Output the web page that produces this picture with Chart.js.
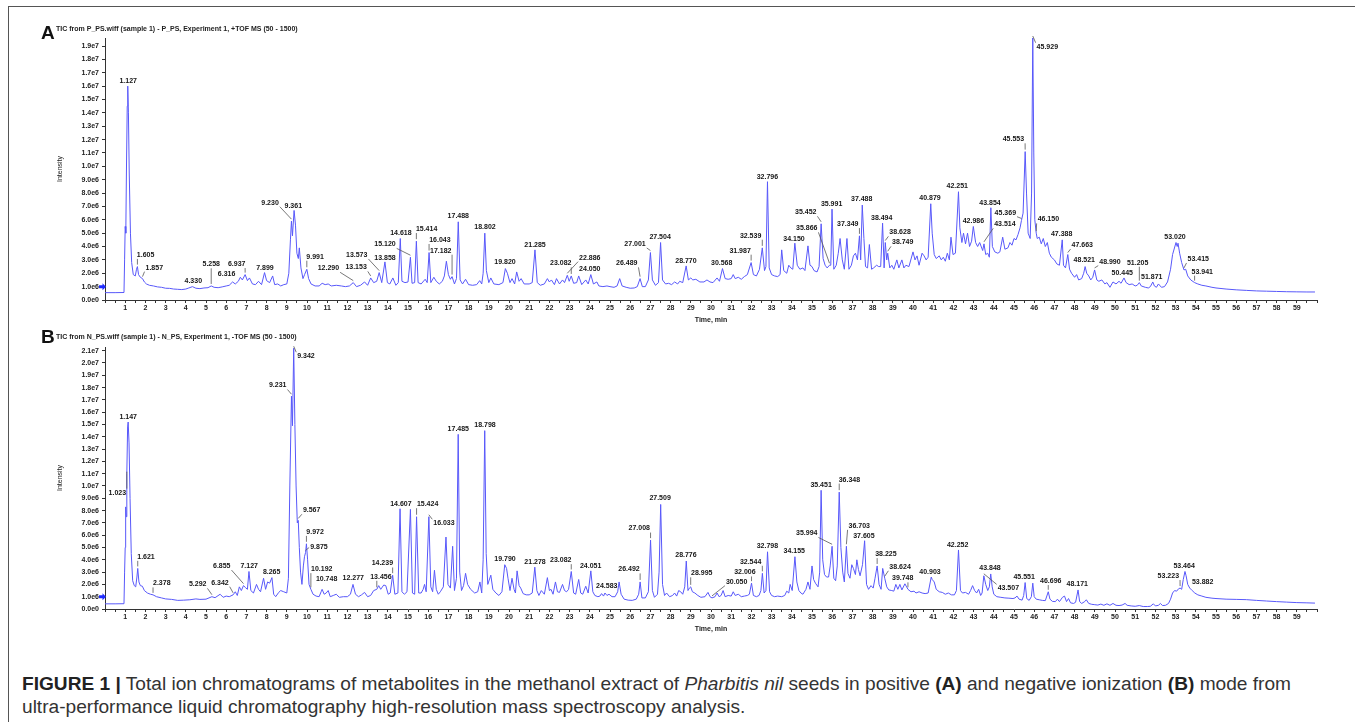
<!DOCTYPE html>
<html><head><meta charset="utf-8">
<script src="https://cdn.jsdelivr.net/npm/chart.js@4.4.1/dist/chart.umd.min.js"></script>
<style>
html,body{margin:0;padding:0;background:#fff;width:1355px;height:722px;overflow:hidden;}
#frame{position:absolute;left:8px;top:6px;width:1400px;height:800px;border-left:1px solid #555;border-top:1px solid #555;}
canvas{position:absolute;left:0;}
.panel{position:absolute;font-family:"Liberation Sans",Arial,sans-serif;font-weight:bold;font-size:19px;line-height:1;color:#111;}
.tic{position:absolute;font-family:"Liberation Sans",Arial,sans-serif;font-size:7px;font-weight:bold;line-height:1;color:#222;white-space:nowrap;}
#caption{position:absolute;left:22px;top:672px;font-family:"Liberation Sans Narrow","Liberation Sans",Arial,sans-serif;font-size:17px;line-height:23px;color:#333;white-space:nowrap;}
#caption b{color:#222;}
</style></head>
<body>
<div id="frame"></div>
<canvas id="chartA" width="1355" height="340" style="top:0px"></canvas>
<canvas id="chartB" width="1355" height="330" style="top:320px"></canvas>
<div class="panel" style="left:41px;top:23px">A</div>
<div class="tic" style="left:56px;top:24.5px">TIC from P_PS.wiff (sample 1) - P_PS, Experiment 1, +TOF MS (50 - 1500)</div>
<div class="panel" style="left:41px;top:327px">B</div>
<div class="tic" style="left:56px;top:332.5px">TIC from N_PS.wiff (sample 1) - N_PS, Experiment 1, -TOF MS (50 - 1500)</div>
<div id="caption"><span id="cap1"><b>FIGURE 1 |</b> Total ion chromatograms of metabolites in the methanol extract of <i>Pharbitis nil</i> seeds in positive <b>(A)</b> and negative ionization <b>(B)</b> mode from</span><br><span id="cap2">ultra-performance liquid chromatography high-resolution mass spectroscopy analysis.</span></div>
<script>
// ---------- DATA (time in min, intensity in units of 1e6 counts) ----------
const timeA = [0,0.5,0.94,0.97,1.0,1.03,1.06,1.1,1.127,1.16,1.2,1.26,1.32,1.4,1.5,1.56,1.605,1.66,1.75,1.857,1.95,2.05,2.2,2.4,2.6,2.8,3.0,3.2,3.4,3.6,3.8,4.0,4.15,4.33,4.5,4.7,4.9,5.1,5.258,5.4,5.6,5.8,6.0,6.15,6.316,6.45,6.6,6.7,6.8,6.937,7.05,7.15,7.3,7.45,7.6,7.75,7.899,8.0,8.15,8.3,8.4,8.55,8.7,8.85,9.0,9.1,9.18,9.23,9.28,9.361,9.43,9.5,9.57,9.62,9.7,9.8,9.88,9.991,10.08,10.2,10.4,10.6,10.75,10.9,11.05,11.2,11.45,11.7,11.9,12.1,12.29,12.45,12.65,12.85,13.0,13.153,13.3,13.45,13.573,13.7,13.858,13.98,14.1,14.25,14.4,14.52,14.618,14.7,14.85,15.0,15.12,15.2,15.33,15.414,15.5,15.65,15.85,15.95,16.043,16.13,16.28,16.4,16.55,16.7,16.8,16.9,17.0,17.1,17.182,17.3,17.4,17.488,17.58,17.7,17.85,18.0,18.2,18.4,18.55,18.65,18.72,18.802,18.88,19.0,19.1,19.25,19.5,19.7,19.82,19.92,20.05,20.15,20.28,20.38,20.5,20.6,20.75,21.0,21.15,21.285,21.4,21.55,21.75,21.9,22.0,22.1,22.25,22.35,22.5,22.65,22.75,22.886,22.98,23.082,23.2,23.35,23.45,23.6,23.8,23.92,24.05,24.18,24.35,24.45,24.65,24.85,25.0,25.2,25.35,25.48,25.6,25.8,26.0,26.2,26.35,26.489,26.6,26.75,26.9,27.001,27.1,27.25,27.4,27.504,27.6,27.75,27.9,28.05,28.2,28.35,28.45,28.6,28.77,28.88,29.0,29.1,29.25,29.45,29.65,29.8,29.95,30.1,30.3,30.42,30.568,30.7,30.85,31.0,31.1,31.2,31.35,31.5,31.65,31.8,31.987,32.1,32.25,32.4,32.539,32.65,32.72,32.796,32.88,33.0,33.15,33.3,33.42,33.5,33.6,33.75,33.85,33.95,34.05,34.15,34.27,34.4,34.55,34.65,34.8,34.9,35.0,35.1,35.25,35.35,35.452,35.55,35.65,35.75,35.866,35.93,35.991,36.08,36.2,36.3,36.39,36.5,36.6,36.73,36.83,36.95,37.05,37.15,37.25,37.349,37.41,37.488,37.57,37.65,37.75,37.84,37.95,38.05,38.2,38.3,38.4,38.494,38.57,38.628,38.7,38.749,38.85,38.95,39.05,39.2,39.3,39.45,39.55,39.65,39.8,40.0,40.1,40.2,40.3,40.45,40.55,40.65,40.75,40.879,40.95,41.05,41.15,41.3,41.4,41.5,41.6,41.7,41.8,41.88,41.98,42.1,42.251,42.32,42.42,42.5,42.6,42.7,42.8,42.9,42.986,43.1,43.2,43.3,43.45,43.514,43.6,43.7,43.78,43.854,43.93,44.05,44.2,44.3,44.44,44.55,44.7,44.8,44.9,45.0,45.1,45.2,45.3,45.369,45.45,45.553,45.62,45.7,45.8,45.87,45.929,45.98,46.03,46.1,46.15,46.25,46.35,46.45,46.55,46.65,46.75,46.85,47.0,47.12,47.25,47.388,47.45,47.55,47.663,47.75,47.85,48.0,48.1,48.2,48.35,48.45,48.521,48.6,48.7,48.8,48.9,48.99,49.1,49.2,49.35,49.5,49.6,49.75,49.9,50.05,50.2,50.3,50.445,50.55,50.7,50.85,51.0,51.1,51.205,51.3,51.5,51.65,51.75,51.871,51.95,52.05,52.15,52.3,52.45,52.6,52.75,52.85,53.02,53.08,53.12,53.2,53.3,53.415,53.5,53.6,53.75,53.941,54.1,54.3,54.5,54.8,55.0,55.5,56.0,56.5,57.0,57.5,58.0,58.5,59.0,59.5,59.9];
const intensityA = [0.55,0.55,0.56,3.0,5.5,5.0,9.5,14.5,16.0,14.0,9.5,5.0,2.8,1.9,1.8,2.3,2.5,1.9,1.7,1.6,1.35,1.2,1.1,1.05,0.98,0.95,0.88,0.87,0.82,0.8,0.78,0.82,0.9,1.0,0.88,0.85,0.9,0.92,1.05,0.95,0.92,0.98,1.05,1.1,1.35,1.2,1.4,1.7,1.5,1.9,1.45,1.65,1.2,1.15,1.4,1.15,2.05,1.45,1.3,1.8,1.15,1.2,1.05,1.15,1.2,2.0,4.5,5.9,4.8,6.7,5.6,3.5,3.1,3.9,2.4,1.6,1.9,2.3,1.6,1.2,1.05,1.05,1.25,1.15,1.2,1.05,1.1,1.05,1.0,1.05,1.3,1.0,1.1,1.35,1.1,1.65,1.3,1.4,2.05,1.3,2.85,1.3,1.2,1.65,1.1,1.3,4.6,1.4,1.3,1.35,3.2,1.25,1.3,4.4,1.3,1.2,1.55,1.3,3.55,1.3,1.7,1.4,1.2,1.4,1.8,2.9,1.9,1.55,1.75,1.2,1.6,5.85,1.5,1.2,1.55,1.15,1.1,1.15,1.45,1.2,2.0,5.0,2.2,1.3,1.65,1.2,1.15,1.3,2.35,2.0,1.3,1.6,1.2,2.1,1.4,1.6,1.2,1.2,1.3,3.75,1.3,1.1,1.2,1.6,1.35,1.5,1.15,1.6,1.2,1.5,1.3,1.85,1.4,1.8,1.25,1.3,1.8,1.15,1.5,1.2,1.9,1.2,1.35,1.05,1.0,1.05,1.0,0.95,1.05,1.6,1.05,0.95,0.88,0.9,1.0,1.6,1.0,1.0,1.5,3.55,1.5,1.1,1.3,4.3,1.5,1.2,1.25,1.15,1.35,1.2,1.4,1.3,2.55,1.5,1.65,1.5,1.55,1.35,1.35,1.5,1.35,1.3,1.65,1.4,2.35,1.6,1.55,1.6,1.9,1.6,1.7,1.55,1.75,1.9,2.8,1.9,1.8,2.3,3.9,2.2,2.5,8.85,2.4,1.9,1.8,1.75,1.9,3.75,2.2,2.0,2.6,2.4,2.3,4.25,2.6,2.3,2.4,2.2,4.05,2.6,2.5,2.2,2.1,2.5,5.7,3.1,2.6,2.4,2.6,2.6,6.8,2.3,2.6,3.5,4.6,3.0,2.3,4.6,2.3,2.6,3.3,3.5,3.0,4.8,3.0,7.1,4.6,2.5,2.4,4.15,2.3,2.4,2.6,2.5,2.5,5.75,2.4,4.3,3.0,3.5,2.4,2.6,2.3,3.0,2.4,3.0,2.4,2.6,2.5,3.6,3.0,3.3,2.6,3.5,3.3,3.0,3.2,7.2,5.0,3.4,3.1,3.3,3.0,3.2,2.9,3.5,3.0,4.7,3.4,3.5,8.1,5.4,4.3,5.0,4.2,5.0,4.0,4.4,5.5,4.3,4.0,4.3,3.7,4.2,3.4,3.5,3.2,6.9,4.0,3.6,3.5,3.6,4.7,3.8,3.9,4.3,4.1,4.6,4.5,4.9,5.4,5.95,6.5,11.1,8.0,5.0,4.6,8.0,19.6,11.0,6.0,5.0,4.6,4.7,4.2,4.6,4.0,4.3,3.5,3.2,3.0,2.7,2.6,4.5,2.6,2.4,3.4,2.3,2.0,1.7,1.9,1.5,1.6,2.0,2.5,2.0,1.8,1.5,1.7,2.25,1.5,1.4,1.5,1.2,1.3,0.95,1.35,1.2,1.4,1.25,1.65,1.3,1.15,1.2,1.05,1.1,1.3,1.05,0.95,0.9,1.0,1.35,1.05,0.95,1.2,0.95,1.0,1.35,2.3,3.4,4.3,4.0,4.25,3.5,2.8,2.25,2.3,1.8,1.5,1.3,1.2,1.1,1.05,0.95,0.9,0.82,0.76,0.72,0.68,0.66,0.64,0.62,0.61,0.6,0.6];

const timeB = [0,0.5,0.94,0.97,1.0,1.023,1.05,1.08,1.12,1.147,1.19,1.24,1.3,1.37,1.45,1.52,1.58,1.621,1.68,1.75,1.85,1.95,2.1,2.25,2.378,2.55,2.8,3.0,3.3,3.6,3.9,4.2,4.5,4.7,5.0,5.292,5.45,5.7,5.85,6.0,6.15,6.342,6.45,6.55,6.65,6.75,6.855,6.95,7.05,7.127,7.22,7.35,7.5,7.6,7.7,7.85,7.95,8.05,8.15,8.265,8.35,8.45,8.6,8.7,8.85,9.0,9.08,9.15,9.231,9.28,9.342,9.4,9.46,9.52,9.567,9.62,9.68,9.75,9.82,9.875,9.93,9.972,10.03,10.1,10.192,10.3,10.45,10.6,10.7,10.748,10.85,10.95,11.05,11.15,11.3,11.45,11.6,11.8,12.0,12.15,12.277,12.4,12.55,12.7,12.85,13.0,13.15,13.3,13.456,13.55,13.65,13.8,13.9,14.02,14.12,14.239,14.35,14.5,14.607,14.7,14.82,14.95,15.12,15.22,15.33,15.424,15.53,15.65,15.75,15.82,15.9,16.033,16.13,16.22,16.31,16.4,16.5,16.6,16.75,16.88,16.98,17.1,17.21,17.3,17.4,17.485,17.56,17.65,17.75,17.85,17.95,18.1,18.3,18.45,18.56,18.65,18.72,18.798,18.87,18.95,19.1,19.2,19.35,19.5,19.65,19.79,19.88,19.95,20.05,20.15,20.25,20.32,20.4,20.5,20.58,20.7,20.85,21.0,21.15,21.278,21.38,21.48,21.6,21.75,21.9,22.0,22.08,22.18,22.3,22.4,22.5,22.65,22.75,22.85,22.95,23.082,23.2,23.3,23.45,23.55,23.65,23.8,23.92,24.051,24.15,24.25,24.4,24.5,24.583,24.68,24.75,24.85,24.95,25.1,25.25,25.38,25.45,25.55,25.7,25.9,26.1,26.3,26.42,26.492,26.58,26.75,26.9,27.008,27.1,27.2,27.35,27.43,27.509,27.6,27.7,27.8,27.95,28.1,28.2,28.3,28.4,28.5,28.6,28.7,28.776,28.86,28.93,28.995,29.08,29.2,29.35,29.5,29.7,29.85,29.95,30.05,30.2,30.3,30.4,30.5,30.6,30.7,30.85,31.0,31.1,31.2,31.35,31.5,31.65,31.8,31.9,32.006,32.1,32.25,32.38,32.47,32.544,32.63,32.72,32.798,32.9,33.0,33.15,33.3,33.5,33.65,33.75,33.85,33.92,34.02,34.155,34.25,34.35,34.45,34.55,34.7,34.8,34.9,35.0,35.08,35.17,35.3,35.38,35.451,35.53,35.62,35.72,35.82,35.9,35.994,36.08,36.17,36.25,36.348,36.43,36.52,36.6,36.703,36.78,36.88,36.97,37.05,37.15,37.22,37.3,37.38,37.5,37.605,37.7,37.8,37.92,38.03,38.12,38.225,38.32,38.42,38.5,38.6,38.7,38.8,38.95,39.05,39.15,39.25,39.35,39.45,39.6,39.75,39.9,40.05,40.15,40.3,40.45,40.6,40.75,40.903,40.95,41.05,41.15,41.3,41.45,41.6,41.75,41.9,42.05,42.15,42.252,42.35,42.45,42.6,42.75,42.85,42.95,43.05,43.15,43.25,43.35,43.42,43.507,43.6,43.7,43.78,43.848,43.92,44.0,44.15,44.35,44.55,44.75,44.95,45.05,45.15,45.25,45.4,45.48,45.551,45.63,45.75,45.86,45.93,46.0,46.1,46.25,46.4,46.55,46.696,46.78,46.9,47.05,47.15,47.25,47.4,47.5,47.6,47.7,47.8,47.95,48.05,48.171,48.25,48.35,48.5,48.58,48.7,48.85,49.0,49.15,49.3,49.45,49.6,49.75,49.9,50.05,50.2,50.35,50.5,50.6,50.8,51.0,51.2,51.4,51.6,51.75,51.9,52.0,52.15,52.25,52.35,52.5,52.65,52.75,52.85,52.95,53.05,53.15,53.223,53.3,53.38,53.464,53.52,53.6,53.7,53.82,53.95,54.1,54.3,54.5,54.8,55.0,55.5,56.0,56.5,57.0,57.5,58.0,58.5,59.0,59.5,59.9];
const intensityB = [0.42,0.42,0.43,3.0,5.0,8.3,7.5,11.0,14.8,15.2,13.5,9.0,4.5,2.3,1.9,1.8,2.6,3.3,2.2,1.9,1.85,1.5,1.3,1.2,1.15,1.0,0.9,0.82,0.78,0.7,0.72,0.75,0.82,0.78,0.8,1.0,0.92,1.2,0.95,1.05,1.0,1.15,1.4,1.1,1.8,1.5,1.9,1.75,1.6,3.05,1.5,1.3,2.0,1.6,1.4,2.5,1.6,2.2,2.1,2.55,1.2,1.0,1.35,1.5,1.4,1.3,2.5,10.0,17.3,14.9,21.2,15.0,10.0,7.0,7.2,5.0,3.0,2.0,3.5,4.25,4.6,5.3,4.0,2.0,1.6,1.2,1.05,1.0,1.4,1.6,1.2,1.3,1.5,1.0,1.1,1.2,0.95,1.0,1.0,1.2,2.0,1.2,1.0,1.15,1.35,1.0,1.1,1.5,1.6,1.9,1.6,1.95,1.9,1.2,1.3,2.75,1.2,1.3,8.15,1.4,1.2,1.4,8.1,1.3,1.2,7.5,1.3,1.3,1.6,2.0,1.4,7.5,1.8,1.4,3.15,1.6,1.2,1.4,1.8,5.85,2.0,1.7,5.1,1.5,2.5,14.2,3.0,1.5,1.9,2.9,2.0,1.6,1.3,1.4,2.2,1.3,4.0,14.5,4.5,2.0,2.75,1.6,1.3,1.1,1.4,3.6,3.3,2.5,1.5,2.5,1.6,1.3,3.1,1.9,1.7,1.25,1.15,1.15,1.3,3.4,1.5,1.1,1.5,1.2,2.55,1.5,1.6,1.2,2.2,1.4,1.35,2.0,1.5,1.4,1.6,3.05,1.3,1.2,2.4,1.3,1.2,1.85,1.3,3.1,1.4,1.1,1.0,1.05,1.25,1.05,1.3,1.1,1.2,1.0,1.0,1.4,2.2,1.2,0.8,0.72,0.7,0.8,1.2,2.2,0.9,0.9,1.4,5.6,1.5,0.95,1.2,3.0,8.5,2.0,1.1,1.3,1.0,1.1,1.3,1.05,1.5,1.4,1.2,1.8,3.9,1.5,1.7,1.8,1.4,1.3,1.1,0.95,1.0,1.35,1.0,0.9,1.0,1.3,1.0,1.1,1.5,1.0,1.1,1.05,1.4,1.1,1.2,1.0,1.05,1.1,1.2,2.1,1.1,1.0,1.1,1.5,2.9,1.3,1.5,4.65,1.4,1.1,1.0,1.05,1.0,1.1,1.45,1.3,2.0,1.5,4.25,2.2,1.5,1.3,1.2,1.6,2.2,1.6,3.5,2.4,2.1,1.8,3.0,9.65,4.0,2.8,2.6,2.6,3.5,5.1,2.5,2.3,3.5,9.5,5.0,3.0,2.2,5.1,2.9,2.5,3.6,3.3,2.8,4.0,3.2,2.7,3.6,5.55,2.0,1.6,1.9,1.7,2.5,3.5,2.0,1.6,3.3,2.5,1.8,1.55,1.5,1.45,2.0,1.6,2.0,1.55,2.05,1.6,1.4,1.45,1.3,1.4,1.3,1.25,1.3,2.6,2.4,2.2,1.6,1.4,1.35,1.2,1.3,1.15,1.15,1.5,4.8,1.5,1.3,1.35,1.2,1.5,1.9,1.5,1.3,1.6,1.1,1.3,2.7,2.0,1.5,1.8,2.85,1.8,1.2,1.0,0.95,0.9,0.88,0.85,0.9,1.05,0.8,0.72,1.1,2.15,0.85,0.7,1.0,2.1,1.0,0.8,0.75,0.7,0.68,1.4,0.8,0.62,0.6,0.8,0.6,0.95,1.05,0.6,0.85,0.5,0.45,0.55,1.55,0.6,0.45,0.6,0.75,0.45,0.38,0.35,0.32,0.4,0.3,0.42,0.3,0.45,0.3,0.28,0.32,0.45,0.3,0.25,0.22,0.28,0.2,0.2,0.22,0.42,0.25,0.3,0.45,0.28,0.3,0.45,0.8,1.3,1.5,1.45,1.65,1.7,1.6,2.4,3.05,2.7,2.0,1.7,1.5,1.3,1.15,1.05,0.95,0.88,0.85,0.8,0.78,0.76,0.7,0.65,0.6,0.56,0.52,0.5,0.48];

// Peak annotations: label text (retention time), label centre time, label centre intensity (1e6)
const peakTextA = ["1.127","1.605","1.857","4.330","5.258","6.316","6.937","7.899","9.230","9.361","9.991","12.290","13.153","13.573","13.858","14.618","15.120","15.414","16.043","17.182","17.488","18.802","19.820","21.285","23.082","22.886","24.050","26.489","27.001","27.504","28.770","30.568","31.987","32.539","32.796","34.150","35.452","35.866","35.991","37.349","37.488","38.494","38.628","38.749","40.879","42.251","42.986","43.854","43.514","45.369","45.553","45.929","46.150","47.388","47.663","48.521","48.990","50.445","51.205","51.871","53.020","53.415","53.941"];
const peakLabelTimeA = [1.15,2.01,2.44,4.37,5.26,6.02,6.52,7.92,8.17,9.32,10.4,11.06,12.43,12.46,13.86,14.65,13.86,15.92,16.58,16.62,17.49,18.81,19.8,21.29,22.56,24.0,24.0,25.83,26.24,27.48,28.76,30.53,31.44,31.96,32.79,34.11,34.69,34.74,35.97,36.77,37.46,38.45,39.36,39.49,40.84,42.19,42.99,43.81,44.55,44.57,44.97,46.65,46.7,47.36,48.38,48.48,49.75,50.36,51.12,51.82,52.97,54.12,54.32];
const peakLabelIntA = [16.4,3.37,2.42,1.42,2.67,1.94,2.69,2.37,7.28,7.05,3.24,2.37,2.44,3.37,3.17,4.99,4.16,5.31,4.49,3.69,6.28,5.48,2.82,4.11,2.74,3.17,2.29,2.74,4.19,4.69,2.92,2.74,3.69,4.81,9.22,4.56,6.56,5.36,7.18,5.68,7.55,6.11,5.06,4.31,7.65,8.55,5.91,7.28,5.66,6.53,12.02,18.95,6.03,4.91,4.11,2.99,2.87,2.0,2.79,1.74,4.73,3.07,2.12];

const peakTextB = ["1.023","1.147","1.621","2.378","5.292","6.342","6.855","7.127","8.265","9.231","9.342","9.567","9.972","9.875","10.192","10.748","12.277","13.456","14.239","14.607","15.424","16.033","17.485","18.798","19.790","21.278","23.082","24.051","24.583","26.492","27.008","27.509","28.776","28.995","30.050","32.006","32.544","32.798","34.155","35.451","35.994","36.348","36.703","37.605","38.225","38.624","39.748","40.903","42.252","43.848","43.507","45.551","46.696","48.171","53.223","53.464","53.882"];
const peakLabelTimeB = [0.61,1.15,2.03,2.81,4.59,5.69,5.78,7.14,8.25,8.55,9.95,10.23,10.4,10.59,10.73,10.97,12.29,13.66,13.73,14.65,15.97,16.78,17.49,18.81,19.8,21.29,22.56,24.04,24.84,25.94,26.45,27.48,28.76,29.54,31.27,31.68,31.96,32.79,34.12,35.45,34.74,36.85,37.34,37.57,38.66,39.36,39.49,40.84,42.21,43.81,44.72,45.5,46.82,48.13,52.64,53.42,54.34];
const peakLabelIntB = [9.46,15.6,4.24,2.08,2.0,2.14,3.49,3.51,2.97,18.17,20.55,8.03,6.27,5.0,3.24,2.41,2.49,2.62,3.7,8.57,8.52,6.97,14.6,14.98,4.03,3.79,3.97,3.49,1.87,3.22,6.54,8.98,4.38,2.9,2.22,2.97,3.84,5.11,4.7,10.06,6.14,10.52,6.76,5.92,4.46,3.43,2.49,3.03,5.19,3.3,1.68,2.57,2.27,2.0,2.68,3.51,2.17];

const yMaxA = 19.6, yMaxB = 21.3;   // top of each intensity axis (1e6)
const xMin = 0, xMax = 60;            // time axis range (min)

// ---------- RENDERING ----------
const FONT = '"Liberation Sans", Arial, sans-serif';
const LINE_COLOR = '#5858fa';

function yTickLabel(v){
  if (v === 0) return '0.0e0';
  if (v >= 10) return (v/10).toFixed(1) + 'e7';
  return v.toFixed(1) + 'e6';
}

const annotatePlugin = {
  id: 'peakAnnotate',
  afterDatasetsDraw(chart, args, opts) {
    const {ctx, scales: {x, y}, chartArea} = chart;
    const times = opts.times, vals = opts.vals;
    ctx.save();
    // blue marker at 1.0e6 on the intensity axis
    const my = y.getPixelForValue(1);
    const mx = chartArea.left;
    ctx.fillStyle = '#1f2cff';
    ctx.beginPath();
    ctx.moveTo(mx - 6, my - 1.5);
    ctx.lineTo(mx - 2.5, my - 1.5);
    ctx.lineTo(mx - 2.5, my - 3.5);
    ctx.lineTo(mx + 1, my);
    ctx.lineTo(mx - 2.5, my + 3.5);
    ctx.lineTo(mx - 2.5, my + 1.5);
    ctx.lineTo(mx - 6, my + 1.5);
    ctx.closePath();
    ctx.fill();
    // peak labels
    ctx.font = 'bold 7px ' + FONT;
    ctx.textAlign = 'center';
    ctx.textBaseline = 'middle';
    opts.texts.forEach((txt, i) => {
      const lx = x.getPixelForValue(opts.lt[i]);
      const ly = y.getPixelForValue(opts.lv[i]);
      ctx.fillStyle = '#151515';
      ctx.fillText(txt, lx, ly);
      // locate apex of the annotated peak in the series
      const pt = parseFloat(txt);
      let best = -1, bt = pt;
      for (let k = 0; k < times.length; k++) {
        if (Math.abs(times[k] - pt) <= 0.06 && vals[k] > best) { best = vals[k]; bt = times[k]; }
      }
      if (best < 0) return;
      const px = x.getPixelForValue(bt), py = y.getPixelForValue(best) - 2;
      const w = ctx.measureText(txt).width;
      const left = lx - w/2 - 1, right = lx + w/2 + 1, top = ly - 4, bottom = ly + 4;
      if (px >= left - 1 && px <= right + 1 && py >= top - 1 && py <= bottom + 1) return;
      let ex, ey;
      if (py > bottom) { ex = Math.min(Math.max(px, left), right); ey = bottom; }
      else if (py < top) { ex = Math.min(Math.max(px, left), right); ey = top; }
      else { ex = px < left ? left : right; ey = ly; }
      if (Math.hypot(px - ex, py - ey) > 4) {
        ctx.strokeStyle = '#555';
        ctx.lineWidth = 0.8;
        ctx.beginPath();
        ctx.moveTo(ex, ey);
        ctx.lineTo(px, py);
        ctx.stroke();
      }
    });
    ctx.restore();
  }
};

function makeChart(id, times, vals, texts, lt, lv, yMax, padTop, padBottom) {
  const data = times.map((t, i) => ({x: t, y: vals[i]}));
  return new Chart(document.getElementById(id), {
    type: 'line',
    data: { datasets: [{ data, borderColor: LINE_COLOR, borderWidth: 1, pointRadius: 0, tension: 0, fill: false }] },
    options: {
      responsive: false, animation: false, events: [],
      layout: { padding: { left: 52, right: 38, top: padTop, bottom: padBottom } },
      plugins: { legend: { display: false }, tooltip: { enabled: false },
        peakAnnotate: { times, vals, texts, lt, lv } },
      scales: {
        x: {
          type: 'linear', min: xMin, max: xMax, position: 'bottom',
          border: { color: '#333', width: 1 },
          grid: { drawOnChartArea: false, drawTicks: true, tickLength: 3, tickColor: '#333' },
          ticks: { stepSize: 0.5, autoSkip: false, maxRotation: 0, padding: 1, color: '#222',
            font: { family: FONT, size: 7, weight: 'bold' },
            callback: v => (Number.isInteger(v) && v > 0 && v < 60) ? String(v) : '' },
          title: { display: true, text: 'Time, min', color: '#222', padding: { top: 0, bottom: 4 },
            font: { family: FONT, size: 7, weight: 'bold' } },
          afterFit: s => { s.height = 28; }
        },
        y: {
          type: 'linear', min: 0, max: yMax,
          border: { color: '#333', width: 1 },
          grid: { drawOnChartArea: false, drawTicks: true, tickLength: 3, tickColor: '#333' },
          ticks: { stepSize: 1, includeBounds: false, autoSkip: false, padding: 3, color: '#222',
            font: { family: FONT, size: 7, weight: 'bold' }, callback: v => yTickLabel(v) },
          title: { display: true, text: 'Intensity', color: '#222', padding: { top: 4, bottom: 0 },
            font: { family: FONT, size: 7 } },
          afterFit: s => { s.width = 53; }
        }
      }
    },
    plugins: [annotatePlugin]
  });
}

makeChart('chartA', timeA, intensityA, peakTextA, peakLabelTimeA, peakLabelIntA, yMaxA, 38, 12);
makeChart('chartB', timeB, intensityB, peakTextB, peakLabelTimeB, peakLabelIntB, yMaxB, 27, 13);

// fit caption first line to the figure width
(function(){
  const cap = document.getElementById('caption');
  const w = document.getElementById('cap1').getBoundingClientRect().width;
  const fs = 17 * 1269 / w;
  cap.style.fontSize = fs.toFixed(2) + 'px';
})();
</script>
</body></html>
